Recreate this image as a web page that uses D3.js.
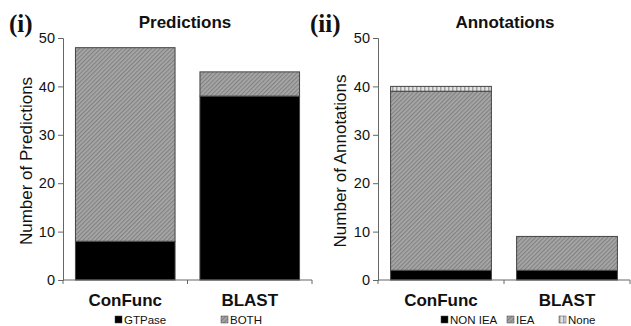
<!DOCTYPE html>
<html>
<head>
<meta charset="utf-8">
<script src="https://cdn.jsdelivr.net/npm/d3@7"></script>
<style>
  body { margin: 0; background: #fff; }
  text { font-family: "Liberation Sans", Arial, sans-serif; fill: #111; }
</style>
</head>
<body>
<svg id="chart" width="631" height="326"></svg>
<script>
// categories + values
const categories = ["ConFunc", "BLAST"];
const yTicks = [0, 10, 20, 30, 40, 50];

// panel (i) predictions
const predGTPase = [8, 38];
const predBoth = [40, 5];

// panel (ii) annotations
const annNonIEA = [2, 2];
const annIEA = [37, 7];
const annNone = [1, 0];

const svg = d3.select("#chart");

// fill patterns
const defs = svg.append("defs");
const hatch = defs.append("pattern")
  .attr("id", "hatch").attr("patternUnits", "userSpaceOnUse")
  .attr("width", 3).attr("height", 3)
  .attr("patternTransform", "rotate(45)");
hatch.append("rect").attr("width", 3).attr("height", 3).attr("fill", "#a8a8a8");
hatch.append("rect").attr("width", 1.2).attr("height", 3).attr("fill", "#828282");

const stripes = defs.append("pattern")
  .attr("id", "stripes").attr("patternUnits", "userSpaceOnUse")
  .attr("width", 4).attr("height", 4);
stripes.append("rect").attr("width", 4).attr("height", 4).attr("fill", "#e2e2e2");
stripes.append("rect").attr("width", 1.5).attr("height", 4).attr("fill", "#a0a0a0");

function drawPanel(opts) {
  const g = svg.append("g");
  const y = d3.scaleLinear().domain([0, 50]).range([280, 38]);
  const x = d3.scaleBand().domain(categories)
    .range([opts.x0, opts.x1]).paddingInner(0.2).paddingOuter(0.1);

  const rows = categories.map((c, i) => {
    const r = { cat: c };
    opts.series.forEach(s => r[s.key] = s.values[i]);
    return r;
  });
  const stacked = d3.stack().keys(opts.series.map(s => s.key))(rows);

  stacked.forEach((layer, li) => {
    g.append("g").selectAll("rect")
      .data(layer.filter(d => d[1] > d[0]))
      .join("rect")
      .attr("x", d => x(d.data.cat))
      .attr("width", x.bandwidth())
      .attr("y", d => y(d[1]))
      .attr("height", d => y(d[0]) - y(d[1]))
      .attr("fill", opts.series[li].fill)
      .attr("stroke", "#444")
      .attr("stroke-width", 1);
  });

  // y axis
  const yAxis = g.append("g")
    .attr("transform", `translate(${opts.x0},0)`)
    .call(d3.axisLeft(y).tickValues(yTicks).tickSize(5).tickPadding(3));
  yAxis.select(".domain").attr("stroke", "#666");
  yAxis.selectAll(".tick line").attr("stroke", "#666");
  yAxis.selectAll("text").style("font-size", "14.5px").attr("fill", "#222");

  // x axis line with ticks at band edges
  g.append("line")
    .attr("x1", opts.x0).attr("x2", opts.x1)
    .attr("y1", y(0)).attr("y2", y(0))
    .attr("stroke", "#666");
  const edges = [opts.x0, (x(categories[0]) + x.bandwidth() + x(categories[1])) / 2, opts.x1];
  g.selectAll(".xt").data(edges).join("line")
    .attr("x1", d => d).attr("x2", d => d)
    .attr("y1", y(0)).attr("y2", y(0) + 4)
    .attr("stroke", "#666");

  g.selectAll(".cat").data(categories).join("text")
    .attr("x", d => x(d) + x.bandwidth() / 2)
    .attr("y", 306)
    .attr("text-anchor", "middle")
    .style("font-size", "17px").style("font-weight", "bold")
    .text(d => d);

  g.append("text")
    .attr("transform", `translate(${opts.labelX},${(y(0) + y(50)) / 2 + 2}) rotate(-90)`)
    .attr("text-anchor", "middle")
    .style("font-size", "17px")
    .attr("fill", "#222")
    .text(opts.yLabel);

  g.append("text")
    .attr("x", opts.titleX).attr("y", 28)
    .attr("text-anchor", "middle")
    .style("font-size", "17px").style("font-weight", "bold")
    .text(opts.title);

  g.append("text")
    .attr("x", opts.tagX).attr("y", 32)
    .style("font-family", "'Liberation Serif', 'Times New Roman', serif")
    .style("font-size", "25px").style("font-weight", "bold")
    .text(opts.tag);

  // legend
  const leg = g.selectAll(".leg").data(opts.series).join("g")
    .attr("transform", (d, i) => `translate(${opts.legendX[i]},316)`);
  leg.append("rect").attr("width", 7).attr("height", 7)
    .attr("fill", d => d.fill).attr("stroke", "#444").attr("stroke-width", 0.5);
  leg.append("text").attr("x", 9).attr("y", 7.5)
    .style("font-size", "11.5px").attr("fill", "#333")
    .text(d => d.key);
}

drawPanel({
  x0: 63, x1: 312, titleX: 185, title: "Predictions", tag: "(i)", tagX: 9,
  yLabel: "Number of Predictions", labelX: 32,
  series: [
    { key: "GTPase", values: predGTPase, fill: "#000" },
    { key: "BOTH", values: predBoth, fill: "url(#hatch)" }
  ],
  legendX: [115, 221]
});

drawPanel({
  x0: 378, x1: 630, titleX: 505, title: "Annotations", tag: "(ii)", tagX: 310,
  yLabel: "Number of Annotations", labelX: 346,
  series: [
    { key: "NON IEA", values: annNonIEA, fill: "#000" },
    { key: "IEA", values: annIEA, fill: "url(#hatch)" },
    { key: "None", values: annNone, fill: "url(#stripes)" }
  ],
  legendX: [441, 507, 559]
});
</script>
</body>
</html>
